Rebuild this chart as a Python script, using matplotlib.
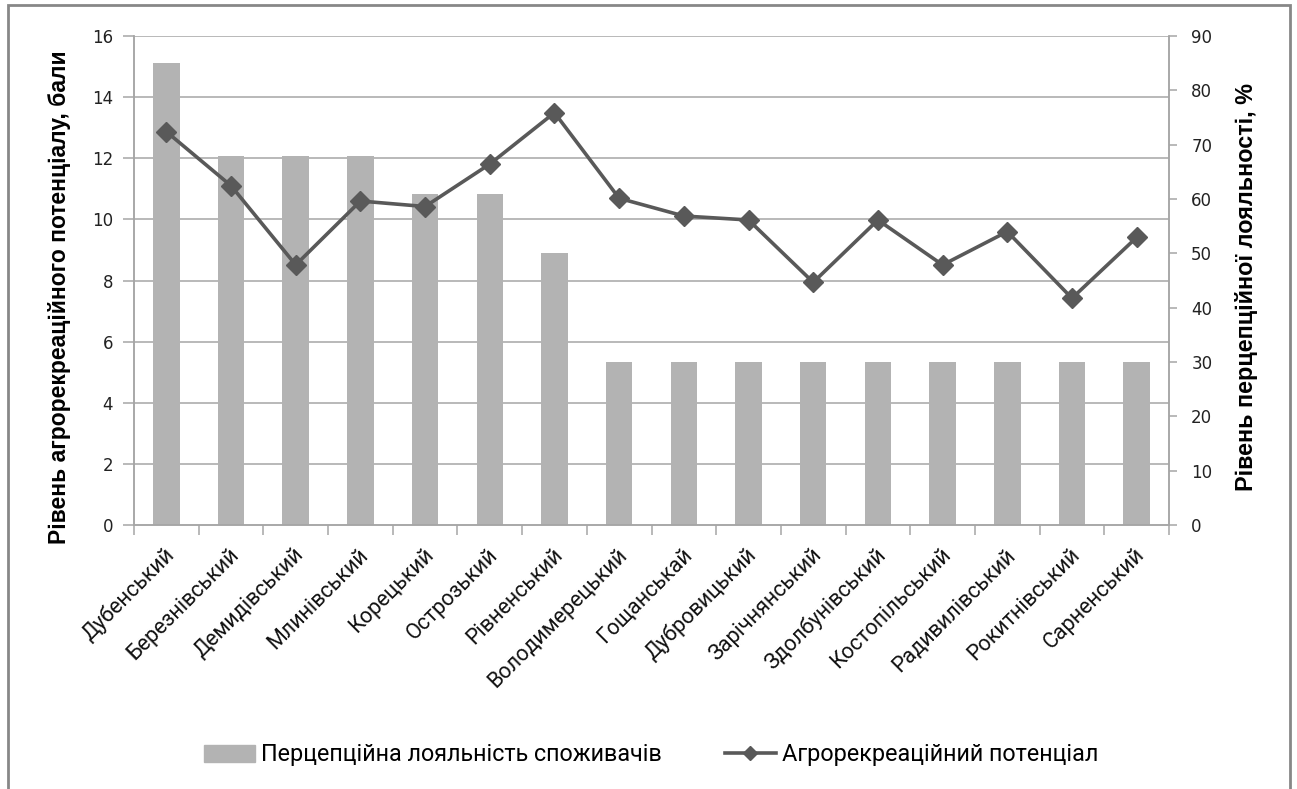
import matplotlib
matplotlib.use("Agg")
import matplotlib.pyplot as plt
from matplotlib.patches import Rectangle
from matplotlib.lines import Line2D

districts = ["Дубенський", "Березнівський", "Демидівський", "Млинівський", "Корецький",
             "Острозький", "Рівненський", "Володимерецький", "Гощанськай", "Дубровицький",
             "Зарічнянський", "Здолбунівський", "Костопільський", "Радивилівський",
             "Рокитнівський", "Сарненський"]
loyalty_pct = [85, 68, 68, 68, 61, 61, 50, 30, 30, 30, 30, 30, 30, 30, 30, 30]
potential_pts = [12.87, 11.10, 8.51, 10.60, 10.42, 11.81, 13.49, 10.69,
                 10.11, 9.98, 7.94, 9.98, 8.51, 9.60, 7.42, 9.41]

left_ticks = [0, 2, 4, 6, 8, 10, 12, 14, 16]
right_ticks = [0, 10, 20, 30, 40, 50, 60, 70, 80, 90]

title_font = "Liberation Sans"
label_font = "Roboto"

W, H = 1297, 789
fig = plt.figure(figsize=(W / 100, H / 100), dpi=100)
fig.patch.set_facecolor("white")

# chart-area frame
fig.add_artist(Rectangle((8 / W, -0.01), (1290 - 8) / W, 1 - 5 / H + 0.01,
                         transform=fig.transFigure, fill=False,
                         edgecolor="#878787", linewidth=2))

x0, x1, ytop, ybot = 134, 1169, 36, 525
ax = fig.add_axes([x0 / W, 1 - ybot / H, (x1 - x0) / W, (ybot - ytop) / H])
ax2 = ax.twinx()

grid_c = "#a6a6a6"
n = len(districts)
pos = list(range(n))

# bars on the secondary (percent) axis
ax2.bar(pos, loyalty_pct, width=0.41, color="#b3b3b3", zorder=2)
ax2.set_ylim(0, 90)
ax2.set_yticks(right_ticks)

# line on the primary (score) axis, drawn above the bars
ax.set_zorder(ax2.get_zorder() + 1)
ax.patch.set_visible(False)
ax.plot(pos, potential_pts, color="#595959", linewidth=2.6, marker="D",
        markersize=10, markerfacecolor="#595959", markeredgecolor="#595959", zorder=5)
ax.set_ylim(0, 16)
ax.set_yticks(left_ticks)
ax.set_xlim(-0.5, n - 0.5)

# horizontal gridlines
for t in left_ticks[1:]:
    ax2.axhline(t * 90 / 16, color=grid_c, linewidth=1.1, zorder=1)

for a in (ax, ax2):
    a.spines["top"].set_visible(False)
    for s in ("left", "right", "bottom"):
        a.spines[s].set_color(grid_c)
        a.spines[s].set_linewidth(1.1)

ax.tick_params(axis="y", direction="out", length=8, width=1.1, color=grid_c,
               labelsize=12, labelcolor="#222222", pad=7)
ax2.tick_params(axis="y", direction="out", length=6, width=1.1, color=grid_c,
                labelsize=12, labelcolor="#222222", pad=10)
for lab in ax.get_yticklabels() + ax2.get_yticklabels():
    lab.set_family("DejaVu Sans")

# category boundaries as ticks, names rotated under each category
ax.set_xticks([i - 0.5 for i in range(n + 1)])
ax.set_xticklabels([])
ax.tick_params(axis="x", direction="out", length=7, width=1.1, color=grid_c)
ax2.tick_params(axis="x", length=0)
for i, name in enumerate(districts):
    ax.text(i + 0.08, -0.055, name, transform=ax.get_xaxis_transform(),
            rotation=45, rotation_mode="anchor", ha="right", va="center",
            fontsize=15.5, family=label_font, color="#111111")

fig.text(60 / W, 1 - 297 / H, "Рівень агрорекреаційного потенціалу, бали",
         rotation=90, ha="center", va="center", fontsize=16.5,
         fontweight="bold", family=title_font, color="black")
fig.text(1247 / W, 1 - 287 / H, "Рівень перцепційної лояльності, %",
         rotation=90, ha="center", va="center", fontsize=16.8,
         fontweight="bold", family=title_font, color="black")

handles = [Rectangle((0, 0), 1, 1, color="#b3b3b3"),
           Line2D([0], [0], color="#595959", linewidth=2.6, marker="D",
                  markersize=7, markerfacecolor="#595959")]
leg = fig.legend(handles, ["Перцепційна лояльність споживачів", "Агрорекреаційний потенціал"],
                 loc="center", bbox_to_anchor=(651 / W, 1 - 755 / H), ncol=2, frameon=False,
                 handlelength=2.2, handletextpad=0.25, columnspacing=2.7,
                 prop={"family": label_font, "size": 16.8})

fig.savefig("out.png", dpi=100, facecolor="white")
